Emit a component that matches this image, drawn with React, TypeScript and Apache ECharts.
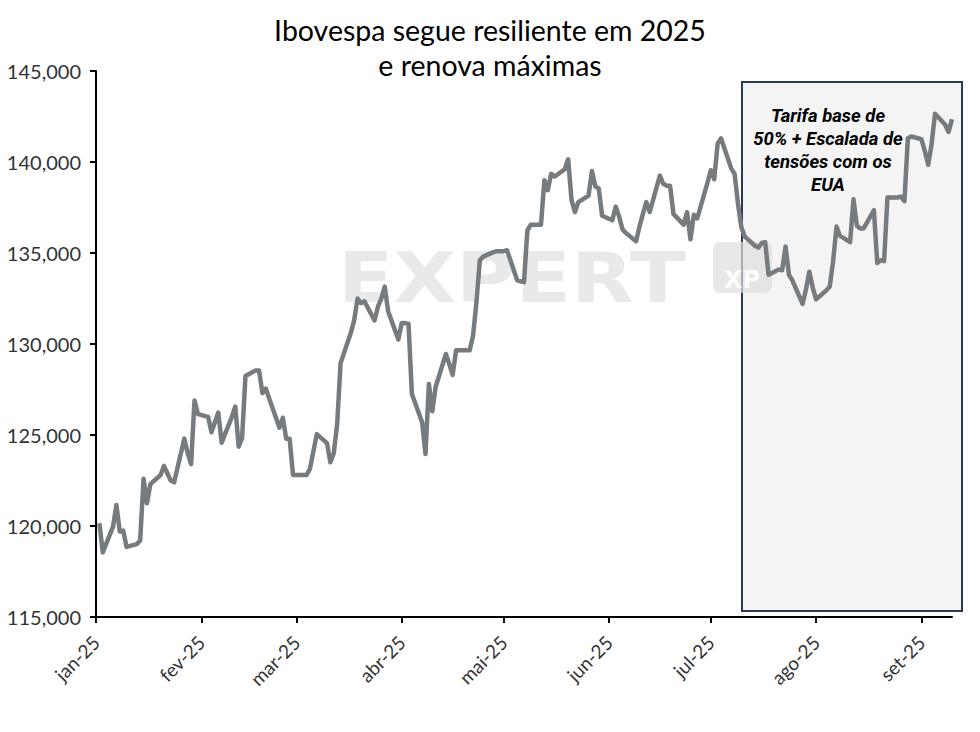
import React, { useEffect, useRef } from "react";
import * as echarts from "echarts";

const titleText = "Ibovespa segue resiliente em 2025\ne renova máximas";
const annotationText = "Tarifa base de\n50% + Escalada de\ntensões com os\nEUA";
const watermarkText = "EXPERT";

const monthStarts = ["2025-01-01", "2025-02-01", "2025-03-01", "2025-04-01", "2025-05-01", "2025-06-01", "2025-07-01", "2025-08-01", "2025-09-01"];
const monthLabels = ["jan-25", "fev-25", "mar-25", "abr-25", "mai-25", "jun-25", "jul-25", "ago-25", "set-25"];
const axisStart = "2025-01-01";
const axisEnd = "2025-09-10";
const yTicks = [115000, 120000, 125000, 130000, 135000, 140000, 145000];

const dates = [
  "2025-01-02", "2025-01-03", "2025-01-06", "2025-01-07", "2025-01-08", "2025-01-09", "2025-01-10",
  "2025-01-13", "2025-01-14", "2025-01-15", "2025-01-16", "2025-01-17",
  "2025-01-20", "2025-01-21", "2025-01-22", "2025-01-23", "2025-01-24",
  "2025-01-27", "2025-01-28", "2025-01-29", "2025-01-30", "2025-01-31",
  "2025-02-03", "2025-02-04", "2025-02-05", "2025-02-06", "2025-02-07",
  "2025-02-10", "2025-02-11", "2025-02-12", "2025-02-13", "2025-02-14",
  "2025-02-17", "2025-02-18", "2025-02-19", "2025-02-20", "2025-02-21",
  "2025-02-24", "2025-02-25", "2025-02-26", "2025-02-27", "2025-02-28",
  "2025-03-03", "2025-03-04", "2025-03-05", "2025-03-06", "2025-03-07",
  "2025-03-10", "2025-03-11", "2025-03-12", "2025-03-13", "2025-03-14",
  "2025-03-17", "2025-03-18", "2025-03-19", "2025-03-20", "2025-03-21",
  "2025-03-24", "2025-03-25", "2025-03-26", "2025-03-27", "2025-03-28",
  "2025-03-31", "2025-04-01", "2025-04-02", "2025-04-03", "2025-04-04",
  "2025-04-07", "2025-04-08", "2025-04-09", "2025-04-10", "2025-04-11",
  "2025-04-14", "2025-04-15", "2025-04-16", "2025-04-17", "2025-04-18",
  "2025-04-21", "2025-04-22", "2025-04-23", "2025-04-24", "2025-04-25",
  "2025-04-28", "2025-04-29", "2025-04-30", "2025-05-01", "2025-05-02",
  "2025-05-05", "2025-05-06", "2025-05-07", "2025-05-08", "2025-05-09",
  "2025-05-12", "2025-05-13", "2025-05-14", "2025-05-15", "2025-05-16",
  "2025-05-19", "2025-05-20", "2025-05-21", "2025-05-22", "2025-05-23",
  "2025-05-26", "2025-05-27", "2025-05-28", "2025-05-29", "2025-05-30",
  "2025-06-02", "2025-06-03", "2025-06-04", "2025-06-05", "2025-06-06",
  "2025-06-09", "2025-06-10", "2025-06-11", "2025-06-12", "2025-06-13",
  "2025-06-16", "2025-06-17", "2025-06-18", "2025-06-19", "2025-06-20",
  "2025-06-23", "2025-06-24", "2025-06-25", "2025-06-26", "2025-06-27",
  "2025-06-30", "2025-07-01", "2025-07-02", "2025-07-03", "2025-07-04",
  "2025-07-07", "2025-07-08", "2025-07-09", "2025-07-10", "2025-07-11",
  "2025-07-14", "2025-07-15", "2025-07-16", "2025-07-17", "2025-07-18",
  "2025-07-21", "2025-07-22", "2025-07-23", "2025-07-24", "2025-07-25",
  "2025-07-28", "2025-07-29", "2025-07-30", "2025-07-31", "2025-08-01",
  "2025-08-04", "2025-08-05", "2025-08-06", "2025-08-07", "2025-08-08",
  "2025-08-11", "2025-08-12", "2025-08-13", "2025-08-14", "2025-08-15",
  "2025-08-18", "2025-08-19", "2025-08-20", "2025-08-21", "2025-08-22",
  "2025-08-25", "2025-08-26", "2025-08-27", "2025-08-28", "2025-08-29",
  "2025-09-01", "2025-09-02", "2025-09-03", "2025-09-04", "2025-09-05",
  "2025-09-08", "2025-09-09", "2025-09-10",
];

const ibovespa = [
  120150, 118550, 119950, 121150, 119700, 119750, 118850,
  119000, 119200, 122600, 121250, 122300,
  122800, 123300, 122900, 122500, 122400,
  124800, 124000, 123400, 126900, 126150,
  126000, 125150, 125700, 126230, 124580,
  126000, 126560, 124360, 124820, 128240,
  128550, 128550, 127300, 127550, 127000,
  125400, 125950, 124800, 124800, 122800,
  122800, 122800, 123150, 124100, 125050,
  124550, 123500, 124000, 125600, 128950,
  130600, 131300, 132500, 132250, 132350,
  131300, 132050, 132500, 133150, 131800,
  130250, 131150, 131150, 131100, 127250,
  125700, 123950, 127800, 126300, 127650,
  129450, 128900, 128300, 129650, 129650,
  129650, 130450, 132300, 134600, 134800,
  135050, 135100, 135100, 135100, 135150,
  133500, 133450, 133400, 136250, 136550,
  136550, 139000, 138450, 139350, 139200,
  139600, 140150, 137900, 137250, 137800,
  138150, 139500, 138650, 138550, 137050,
  136800, 137550, 137000, 136300, 136100,
  135650, 136450, 137150, 137800, 137250,
  139250, 138800, 138700, 138700, 137150,
  136550, 137250, 135750, 137100, 136900,
  138850, 139550, 139050, 141000, 141300,
  139650, 139350, 137700, 136400, 135900,
  135400, 135300, 135550, 135600, 133800,
  134100, 134050, 135350, 133800, 133500,
  132200, 133000, 133970, 133100, 132450,
  132950, 133150, 134550, 136450, 135950,
  135600, 137950, 136500, 136350, 136350,
  137350, 134450, 134600, 134550, 138050,
  138050, 138100, 137850, 141300, 141400,
  141250, 140600, 139850, 141000, 142650,
  142050, 141650, 142350,
];

const DAY = 86400000;
const dayOf = (s: string) => {
  const [y, m, d] = s.split("-").map(Number);
  const [y0, m0, d0] = axisStart.split("-").map(Number);
  return Math.round((Date.UTC(y, m - 1, d) - Date.UTC(y0, m0 - 1, d0)) / DAY);
};

const fmtThousands = (v: number) => String(Math.round(v)).replace(/\B(?=(\d{3})+(?!\d))/g, ",");

export default function App() {
  const ref = useRef<HTMLDivElement>(null);
  useEffect(() => {
    if (!ref.current) return;
    const chart = echarts.init(ref.current, null, { renderer: "svg" });
    const monthDays = monthStarts.map(dayOf);
    const seriesData = dates.map((d, i) => [dayOf(d), ibovespa[i]]);

    chart.setOption({
      animation: false,
      backgroundColor: "#ffffff",
      title: {
        text: titleText,
        left: "center",
        top: 7,
        textStyle: {
          fontFamily: "Lato",
          fontSize: 28.5,
          fontWeight: "normal",
          color: "#000000",
          lineHeight: 35,
        },
      },
      grid: { left: 96, right: 28, top: 71, bottom: 115 },
      xAxis: {
        type: "value",
        min: dayOf(axisStart),
        max: dayOf(axisEnd),
        splitLine: { show: false },
        axisLine: { show: true, onZero: false, lineStyle: { color: "#000", width: 2 } },
        axisTick: {
          show: true,
          customValues: monthDays,
          length: 6,
          lineStyle: { color: "#000", width: 2 },
        },
        axisLabel: {
          customValues: monthDays,
          rotate: 45,
          margin: 22,
          fontFamily: "Lato",
          fontSize: 19,
          color: "#333333",
          formatter: (v: number) => {
            const i = monthDays.indexOf(Math.round(v));
            return i >= 0 ? monthLabels[i] : "";
          },
        },
      },
      yAxis: {
        type: "value",
        min: yTicks[0],
        max: yTicks[yTicks.length - 1],
        interval: yTicks[1] - yTicks[0],
        splitLine: { show: false },
        axisLine: { show: true, lineStyle: { color: "#000", width: 2 } },
        axisTick: { show: true, length: 6, lineStyle: { color: "#000", width: 2 } },
        axisLabel: {
          margin: 15,
          fontFamily: "Lato",
          fontSize: 20,
          color: "#333333",
          formatter: (v: number) => fmtThousands(v),
        },
      },
      graphic: [
        {
          type: "rect",
          z: 0,
          shape: { x: 742, y: 82, width: 220, height: 529 },
          style: { fill: "#f4f4f4", stroke: "#2b3a4f", lineWidth: 2 },
        },
        {
          type: "text",
          z: 1,
          x: 338,
          y: 243,
          scaleX: 1.16,
          style: {
            text: watermarkText,
            fontFamily: "DejaVu Sans",
            fontWeight: "bold",
            fontSize: 70,
            fill: "#e9e9e9",
            textVerticalAlign: "top",
          },
        },
        {
          type: "group",
          z: 1,
          children: [
            {
              type: "rect",
              z: 1,
              shape: { x: 713, y: 242, width: 59, height: 51, r: 7 },
              style: { fill: "rgba(222,222,222,0.7)" },
            },
            {
              type: "text",
              z: 1,
              x: 742,
              y: 292,
              style: {
                text: "XP",
                fontFamily: "DejaVu Sans",
                fontWeight: "bold",
                fontSize: 24,
                fill: "rgba(255,255,255,0.9)",
                textAlign: "center",
                textVerticalAlign: "bottom",
              },
            },
          ],
        },
        {
          type: "text",
          z: 10,
          x: 828,
          y: 105,
          style: {
            text: annotationText,
            fontFamily: "Roboto",
            fontWeight: "bold",
            fontStyle: "italic",
            fontSize: 18.5,
            lineHeight: 22.8,
            fill: "#000000",
            textAlign: "center",
            textVerticalAlign: "top",
          },
        },
      ],
      series: [
        {
          type: "line",
          data: seriesData,
          showSymbol: false,
          symbol: "none",
          z: 5,
          lineStyle: { color: "#757b7f", width: 4.5, join: "round" },
        },
      ],
    });
    return () => chart.dispose();
  }, []);
  return (
    <div
      ref={ref}
      style={{ position: "fixed", left: 0, top: 0, width: 980, height: 732, background: "#fff" }}
    />
  );
}
